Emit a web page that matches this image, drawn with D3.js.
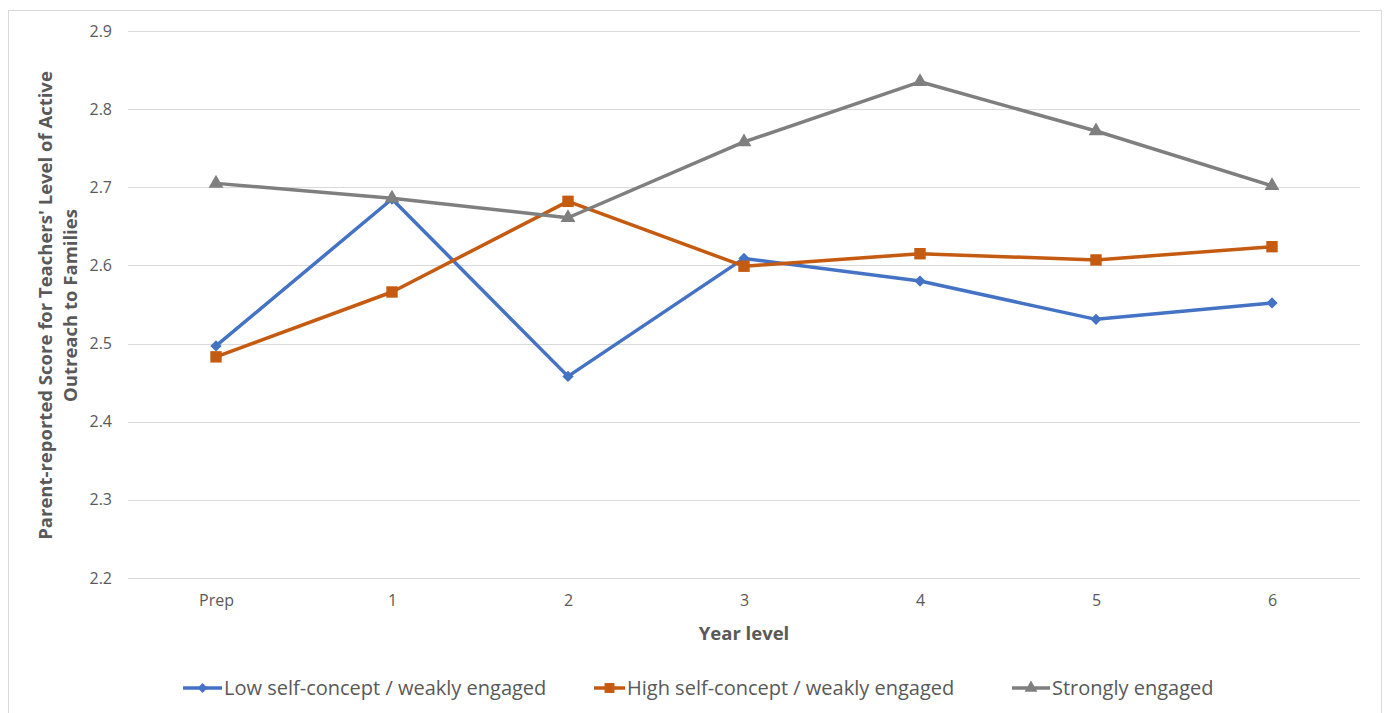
<!DOCTYPE html>
<html>
<head>
<meta charset="utf-8">
<script src="https://cdn.jsdelivr.net/npm/d3@7"></script>
<style>
  html, body { margin: 0; padding: 0; background: #fff; }
  svg { display: block; font-family: "Open Sans", "Liberation Sans", sans-serif; }
</style>
</head>
<body>
<svg id="chart" width="1388" height="713"></svg>
<script>
// Year levels along the x axis
const yearLevels = ["Prep", "1", "2", "3", "4", "5", "6"];

// Mean parent-reported score per year level for each profile
const lowSelfWeak  = [2.497, 2.685, 2.458, 2.609, 2.580, 2.531, 2.552];
const highSelfWeak = [2.483, 2.566, 2.682, 2.599, 2.615, 2.607, 2.624];
const strongEng    = [2.705, 2.686, 2.661, 2.758, 2.835, 2.772, 2.702];

const seriesNames = [
  "Low self-concept / weakly engaged",
  "High self-concept / weakly engaged",
  "Strongly engaged"
];
const yTicks = [2.2, 2.3, 2.4, 2.5, 2.6, 2.7, 2.8, 2.9];

// Diamond markers are squares turned 45 degrees
const series = [
  { name: seriesNames[0], values: lowSelfWeak,  color: "#4472C4", symbol: d3.symbolSquare, size: 64, rotate: 45 },
  { name: seriesNames[1], values: highSelfWeak, color: "#C55A11", symbol: d3.symbolSquare, size: 130, rotate: 0 },
  { name: seriesNames[2], values: strongEng,    color: "#7F7F7F", symbol: d3.symbolTriangle, size: 95, rotate: 0 }
];

const svg = d3.select("#chart");
const plot = { left: 128, right: 1360, top: 31, bottom: 578 };

// Outer chart frame
svg.append("rect")
  .attr("x", 8.5).attr("y", 10.5)
  .attr("width", 1373).attr("height", 720)
  .attr("fill", "#fff").attr("stroke", "#D9D9D9").attr("stroke-width", 1);

const x = d3.scalePoint().domain(yearLevels).range([plot.left, plot.right]).padding(0.5);
const y = d3.scaleLinear().domain([2.2, 2.9]).range([plot.bottom, plot.top]);

// Horizontal gridlines
svg.append("g")
  .selectAll("line").data(yTicks).join("line")
  .attr("x1", plot.left).attr("x2", plot.right)
  .attr("y1", d => Math.round(y(d)) + 0.5).attr("y2", d => Math.round(y(d)) + 0.5)
  .attr("stroke", "#D9D9D9").attr("stroke-width", 1);

// Y axis tick labels
const yAxis = d3.axisLeft(y).tickValues(yTicks).tickFormat(d3.format(".1f")).tickSize(0).tickPadding(0);
const gy = svg.append("g").attr("transform", `translate(${plot.left - 16},0)`).call(yAxis);
gy.select(".domain").remove();
gy.selectAll("text").attr("fill", "#595959").style("font-size", "16px").style("font-family", "'Open Sans', sans-serif");

// X axis tick labels
const xAxis = d3.axisBottom(x).tickSize(0).tickPadding(0);
const gx = svg.append("g").attr("transform", `translate(0,${plot.bottom + 17})`).call(xAxis);
gx.select(".domain").remove();
gx.selectAll("text").attr("fill", "#595959").style("font-size", "16px").style("font-family", "'Open Sans', sans-serif");

// Axis titles
svg.append("text")
  .attr("x", (plot.left + plot.right) / 2).attr("y", 640)
  .attr("text-anchor", "middle").attr("fill", "#595959")
  .style("font-size", "18.5px").style("font-weight", "bold")
  .text("Year level");

const yTitle = svg.append("text")
  .attr("transform", `translate(0,${(plot.top + plot.bottom) / 2 + 1}) rotate(-90)`)
  .attr("text-anchor", "middle").attr("fill", "#595959")
  .style("font-size", "18.5px").style("font-weight", "bold");
yTitle.append("tspan").attr("x", 0).attr("y", 52).text("Parent-reported Score for Teachers' Level of Active");
yTitle.append("tspan").attr("x", 0).attr("y", 77).text("Outreach to Families");

// Series lines and markers
const line = d3.line().x((d, i) => x(yearLevels[i])).y(d => y(d));
series.forEach(s => {
  svg.append("path")
    .datum(s.values)
    .attr("d", line)
    .attr("fill", "none")
    .attr("stroke", s.color)
    .attr("stroke-width", 3.5)
    .attr("stroke-linejoin", "round");
  svg.append("g").selectAll("path").data(s.values).join("path")
    .attr("transform", (d, i) => `translate(${x(yearLevels[i])},${y(d)}) rotate(${s.rotate})`)
    .attr("d", d3.symbol().type(s.symbol).size(s.size))
    .attr("fill", s.color);
});

// Legend
const legendItems = [
  { lx: 183, tx: 224 },
  { lx: 594, tx: 627 },
  { lx: 1012, tx: 1052 }
];
const legendY = 688;
series.forEach((s, i) => {
  const li = legendItems[i];
  const g = svg.append("g");
  g.append("line")
    .attr("x1", li.lx).attr("x2", li.tx - 2)
    .attr("y1", legendY).attr("y2", legendY)
    .attr("stroke", s.color).attr("stroke-width", 3.5);
  g.append("path")
    .attr("transform", `translate(${(li.lx + li.tx - 2) / 2},${legendY}) rotate(${s.rotate})`)
    .attr("d", d3.symbol().type(s.symbol).size(s.size * 0.75))
    .attr("fill", s.color);
  g.append("text")
    .attr("x", li.tx).attr("y", legendY)
    .attr("dy", "0.35em")
    .attr("fill", "#595959")
    .style("font-size", "20px")
    .text(s.name);
});
</script>
</body>
</html>
